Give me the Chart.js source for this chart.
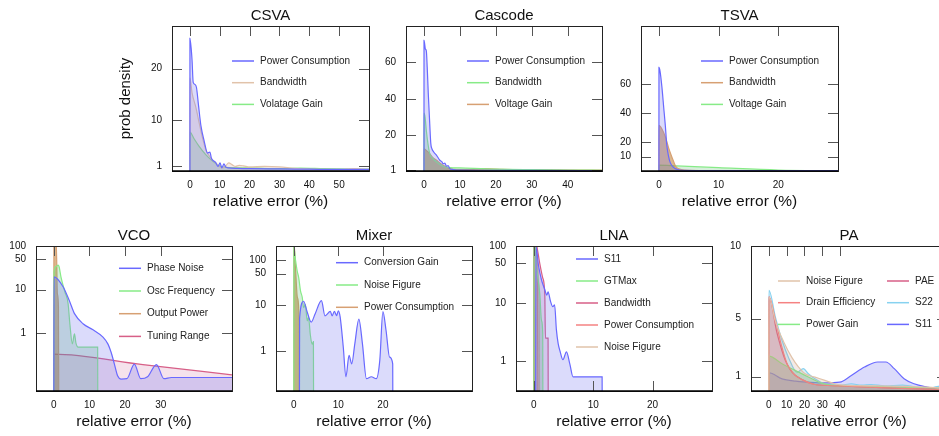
<!DOCTYPE html>
<html><head><meta charset="utf-8">
<script src="https://cdn.jsdelivr.net/npm/chart.js@4"></script>
<style>
html,body{margin:0;padding:0;width:939px;height:436px;overflow:hidden;background:#fff;position:relative}
canvas{position:absolute}
</style></head><body>
<script>
// ---------- DATA (x = relative error %, y = prob density) ----------
const xTitle = 'relative error (%)';
const yTitle = 'prob density';

const csvaPower = [[0,0],[0.01,25.9],[0.7,21.8],[1.1,17.3],[1.7,16.9],[2.2,16.3],[2.9,12.7],[3.7,8.8],[4.8,5.8],[5.9,3.5],[6.7,3.7],[7.2,2.5],[8.1,1.9],[8.7,1.6],[9.4,0.9],[10.1,1.6],[10.7,0.6],[11.4,1.4],[12,0.8],[13,0.6],[16,0.5],[20,0.45],[30,0.4],[40,0.35],[50,0.3],[60,0.3]];
const csvaBandwidth = [[0,0],[0.01,18.2],[0.7,15.3],[2,12.4],[3.1,9.4],[4.2,6.5],[5.3,4.2],[7,2.5],[8.7,1.6],[9.8,0.9],[11,0.6],[12,1.0],[13,1.6],[14.2,1.2],[15.3,0.9],[16.5,1.1],[18,1.0],[20,0.8],[25,0.9],[30,0.8],[35,0.5],[40,0.35],[50,0.3],[55,0.45],[60,0.3]];
const csvaVoltGain = [[0,0],[0.01,7.6],[1.4,6.3],[3.1,4.8],[5.3,3.2],[7.5,2.0],[9.8,1.0],[12,0.7],[20,0.6],[30,0.45],[37,0.55],[45,0.45],[60,0.35]];
const csvaXTicks = [0,10,20,30,40,50];
const csvaYTicks = [1,10,20];

const cascodePower = [[0,0],[0.01,72.2],[0.4,67.3],[0.65,66.4],[0.9,57.3],[1.2,42.7],[1.6,26.4],[1.9,15.5],[2.2,12.7],[2.7,10.9],[3.5,9.1],[4.4,6.4],[5.0,5.5],[5.3,4.5],[5.8,4.8],[6.3,3.1],[6.7,3.5],[7.2,1.8],[8.1,1.3],[10,1.0],[20,0.9],[30,0.8],[50,0.7]];
const cascodeBandwidth = [[0,0],[0.01,32.2],[0.3,30],[0.65,22.7],[1.1,15.5],[1.6,10],[2.5,7.3],[3.5,5.5],[5.3,3.1],[7.2,2.4],[10,2.2],[20,1.5],[30,1.2],[40,1.0],[50,0.9]];
const cascodeVoltGain = [[0,0],[0.01,12.7],[0.65,11.8],[1.6,10],[2.5,7.8],[3.5,6.4],[4.4,4.9],[5.3,3.6],[6.3,2.7],[7.2,1.8],[9.1,1.3],[13,1.3],[17,1.8],[22,1.4],[30,1.2],[50,1.0]];
const cascodeXTicks = [0,10,20,30,40];
const cascodeYTicks = [1,20,40,60];

const tsvaPower = [[0,0],[0.01,71.4],[0.2,68.6],[0.5,58],[0.8,44],[1.1,30],[1.3,18.6],[1.6,10.5],[1.9,5.8],[2.5,2.3],[3,1.2],[4,0.5],[10,0.3],[30,0.2]];
const tsvaBandwidth = [[0,0],[0.01,31.4],[0.5,29],[1.1,23.3],[1.6,16.3],[2.2,9.3],[2.7,4.2],[3,2.3],[3.6,1.2],[5,0.5],[10,0.3],[30,0.2]];
const tsvaVoltGain = [[0,0],[0.01,4],[3,3.5],[10,2.3],[20,0.7],[30,0.2]];
const tsvaXTicks = [0,10,20];
const tsvaYTicks = [10,20,40,60];

const vcoPhaseNoise = [[0,0.01],[0.05,19.6],[2.6,11.6],[4.5,5.2],[5.8,2.8],[8.2,1.64],[11,1.19],[13.8,0.81],[15.2,0.56],[16.1,0.36],[17,0.195],[17.9,0.105],[18.9,0.088],[20.5,0.09],[22.6,0.195],[24.4,0.09],[26.3,0.1],[28.8,0.19],[30.9,0.09],[33,0.096],[50,0.096]];
const vcoOscFreq = [[0,0.01],[0.05,25.6],[0.56,33.5],[1.2,36.5],[1.5,33],[2.0,19.6],[3.1,8.9],[4.0,4.8],[4.5,1.64],[5.2,0.57],[5.8,0.96],[6.2,0.6],[6.8,0.48],[12.3,0.48],[12.35,0.01]];
const vcoOutputPower = [[0,0.01],[0.02,500],[0.5,300],[0.8,50],[1.0,8],[1.3,4],[1.4,0.01]];
const vcoTuningRange = [[0,0.01],[0.02,0.33],[25,0.19],[50,0.11]];
const vcoXTicks = [0,10,20,30];
const vcoYTicks = [1,10,50,100];

const mixerConvGain = [[1.25,0.01],[1.3,5.2],[2.2,12.4],[3.0,7.2],[3.9,4.3],[4.8,6.6],[6.2,12.8],[7.0,5.9],[8.2,7.4],[8.6,5.9],[9.1,7.4],[9.6,6.0],[10,7.6],[10.4,5.6],[11.1,1.22],[11.7,0.27],[12.4,0.8],[13,0.52],[13.7,1.45],[14.6,5.0],[15.4,1.45],[16.3,0.245],[17.4,0.27],[18.5,0.245],[19.3,0.62],[20,7.3],[20.7,2.85],[21.5,0.73],[22.2,0.52],[22.25,0.01]];
const mixerNoiseFig = [[0,0.01],[0.02,190],[0.4,97],[0.75,58],[1.1,41],[1.5,21],[1.9,15],[2.2,9],[2.6,10.6],[3.0,4.6],[3.3,5.5],[3.7,2.3],[4.1,1.4],[4.4,1.6],[4.45,0.01]];
const mixerPower = [[0,0.01],[0.02,250],[0.4,60],[0.8,15],[1.2,4.6],[1.27,0.01]];
const mixerXTicks = [0,10,20];
const mixerYTicks = [1,10,50,100];

const lnaS11 = [[0.3,0.01],[0.35,100],[0.8,45],[1.3,25.6],[1.8,18],[2.2,14],[2.4,16],[2.8,11],[3.2,8.8],[3.5,9.5],[3.8,3.5],[4.1,2.0],[4.4,1.5],[4.9,1.05],[5.5,1.44],[6.05,0.9],[6.6,0.53],[11.5,0.53],[11.55,0.01]];
const lnaGTMax = [[0,0.01],[0.02,150],[0.5,40],[1.0,15],[1.3,5],[1.5,3],[1.55,0.01]];
const lnaBandwidth = [[0,0.01],[0.02,150],[0.5,100],[1.0,50],[1.5,28],[1.85,14],[1.95,2.5],[2.4,2.5],[2.45,0.01]];
const lnaPower = [[0,0.01],[0.02,200],[0.3,150],[0.6,20],[0.75,0.01]];
const lnaNoiseFig = [[0,0.01],[0.02,150],[0.5,60],[0.9,10],[1.0,0.01]];
const lnaXTicks = [0,10,20];
const lnaYTicks = [1,10,50,100];

const paNoiseFig = [[0,0],[0.05,6.5],[3.7,4.8],[8.3,3.4],[13,2.3],[16.7,1.65],[20.4,1.19],[25.9,0.96],[31.5,0.73],[37,0.5],[42,0.4],[60,0.35],[80,0.3],[100,0.2]];
const paDrainEff = [[0,0],[0.05,6.5],[3.7,4.9],[7.4,3.0],[10.2,1.9],[13.9,1.19],[18.5,0.8],[25.9,0.45],[40,0.35],[70,0.2],[100,0.1]];
const paPowerGain = [[0,0],[0.05,2.4],[7.4,1.88],[14.8,1.42],[22.2,0.96],[29.6,0.54],[35,0.4],[60,0.3],[100,0.2]];
const paPAE = [[0,0],[0.05,6.5],[4.6,4.0],[9.3,2.1],[13,1.3],[18.5,0.8],[25.9,0.45],[40,0.35],[70,0.2],[100,0.1]];
const paS22 = [[0,0],[0.05,6.95],[3.7,5.1],[7.4,3.5],[11.1,2.3],[15.8,1.3],[19.4,1.54],[22.2,1.19],[25.9,0.84],[31.4,0.5],[40,0.4],[46.3,0.5],[52,0.4],[57.4,0.45],[65,0.35],[75,0.4],[88.9,0.15],[94.4,0.3],[100,0.4]];
const paS11 = [[0,0],[0.05,1.26],[7.4,0.84],[14.8,0.68],[22.2,0.61],[31.5,0.56],[39.8,0.61],[46.3,1.07],[53.7,1.65],[61.1,2.0],[65.7,2.0],[70.4,1.54],[75.9,0.84],[81.5,0.5],[88.9,0.27],[94.4,0.15],[100,0.1]];
const paXTicks = [0,10,20,30,40];
const paYTicks = [1,5,10];

// ---------- STYLE ----------
const FONT = "'Liberation Sans', Arial, Helvetica, sans-serif";
Chart.defaults.font.family = FONT;
const C = {
  blue:    ['rgb(105,105,255)', 'rgba(110,110,240,0.25)'],
  tan:     ['rgb(225,195,170)', 'rgba(200,150,130,0.2)'],
  green:   ['rgb(135,235,135)', 'rgba(70,180,90,0.22)'],
  orange:  ['rgb(215,160,115)', 'rgba(190,125,50,0.55)'],
  crimson: ['rgb(215,95,135)',  'rgba(205,110,160,0.2)'],
  salmon:  ['rgb(245,130,130)', 'rgba(240,120,120,0.2)'],
  sky:     ['rgb(135,210,240)', 'rgba(135,205,240,0.3)']
};

const frame = {
  id: 'frame',
  afterDatasetsDraw(chart) {
    const o = chart.options.plugins.frame;
    const {ctx, chartArea: a, scales: {x, y}} = chart;
    ctx.save();
    ctx.strokeStyle = '#555'; ctx.lineWidth = 1;
    const seg = (x1, y1, x2, y2) => { ctx.beginPath(); ctx.moveTo(x1, y1); ctx.lineTo(x2, y2); ctx.stroke(); };
    x.ticks.forEach(t => {
      const px = Math.round(x.getPixelForValue(t.value)) + 0.5;
      seg(px, a.top, px, a.top + 10);
      if (o.bottomTicks) seg(px, a.bottom, px, a.bottom - 10);
    });
    y.ticks.forEach(t => {
      const py = Math.round(y.getPixelForValue(t.value)) + 0.5;
      seg(a.left, py, a.left + 10, py);
      seg(a.right, py, a.right - 10, py);
    });
    ctx.strokeStyle = '#222'; ctx.lineWidth = 1;
    ctx.strokeRect(Math.round(a.left) + 0.5, Math.round(a.top) + 0.5, Math.round(a.right - a.left), Math.round(a.bottom - a.top));
    ctx.strokeStyle = '#000'; ctx.lineWidth = 1.6;
    seg(a.left, a.bottom, a.right, a.bottom);
    ctx.restore();
  },
  afterDraw(chart) {
    const o = chart.options.plugins.frame;
    const {ctx, chartArea: a} = chart;
    ctx.save();
    ctx.fillStyle = '#111';
    ctx.font = '15px ' + FONT;
    ctx.textAlign = 'center'; ctx.textBaseline = 'middle';
    ctx.fillText(o.title, (a.left + a.right) / 2, a.top - 10);
    ctx.font = '10px ' + FONT;
    ctx.textAlign = 'left';
    o.legend.forEach(col => {
      col.items.forEach((idx, i) => {
        const ds = chart.data.datasets[idx];
        const yy = a.top + col.y + i * col.dy;
        const x0 = a.left + col.x;
        ctx.strokeStyle = ds.borderColor; ctx.lineWidth = 1.5;
        ctx.beginPath(); ctx.moveTo(x0, yy); ctx.lineTo(x0 + 22, yy); ctx.stroke();
        ctx.fillStyle = '#222';
        ctx.fillText(ds.label, x0 + 28, yy);
      });
    });
    ctx.restore();
  }
};

function makeChart(s) {
  const ML = 65, MT = 30, MR = 15, MB = 50;
  const cv = document.createElement('canvas');
  const w = s.R - s.L + ML + MR, h = s.B - s.T + MT + MB;
  cv.width = w; cv.height = h;
  cv.style.left = (s.L - ML) + 'px'; cv.style.top = (s.T - MT) + 'px';
  cv.style.width = w + 'px'; cv.style.height = h + 'px';
  document.body.appendChild(cv);
  new Chart(cv, {
    type: 'line',
    data: {
      datasets: s.series.map(([label, pts, col]) => ({
        label,
        data: pts.map(p => ({x: p[0], y: p[1]})),
        borderColor: C[col][0], backgroundColor: C[col][1],
        borderWidth: 1.2, pointRadius: 0, fill: 'start',
        cubicInterpolationMode: 'monotone'
      }))
    },
    options: {
      responsive: false, animation: false, devicePixelRatio: 1,
      layout: {padding: {top: MT, right: MR, left: 0, bottom: 0}},
      plugins: {
        legend: {display: false}, tooltip: {enabled: false},
        frame: {title: s.title, legend: s.legend, bottomTicks: !!s.bottomTicks}
      },
      scales: {
        x: {
          type: 'linear', min: s.xMin, max: s.xMax,
          grid: {display: false, drawTicks: false}, border: {display: false},
          afterBuildTicks: sc => { sc.ticks = s.xTicks.map(v => ({value: v})); },
          afterFit: sc => { sc.height = MB; },
          ticks: {padding: 8, font: {size: 10}, color: '#111', maxRotation: 0, autoSkip: false, callback: v => String(v)},
          title: {display: true, text: xTitle, font: {size: 15.5}, color: '#111', padding: {top: 0, bottom: 10}}
        },
        y: {
          type: s.yLog ? 'logarithmic' : 'linear', min: s.yMin, max: s.yMax,
          grid: {display: false, drawTicks: false}, border: {display: false},
          afterBuildTicks: sc => { sc.ticks = s.yTicks.map(v => ({value: v})); },
          afterFit: sc => { sc.width = ML; },
          ticks: {padding: 10, font: {size: 10}, color: '#111', autoSkip: false, callback: v => String(v)},
          title: {display: !!s.yTitle, text: s.yTitle || '', font: {size: 15}, color: '#111', padding: {top: 10, bottom: 0}}
        }
      }
    },
    plugins: [frame]
  });
}

makeChart({title: 'CSVA', L: 172, T: 26, R: 369, B: 171, xMin: -6, xMax: 60, yMin: 0, yMax: 28.3,
  xTicks: csvaXTicks, yTicks: csvaYTicks, yTitle: yTitle,
  series: [['Power Consumption', csvaPower, 'blue'], ['Bandwidth', csvaBandwidth, 'tan'], ['Volatage Gain', csvaVoltGain, 'green']],
  legend: [{x: 60, y: 35, dy: 21.7, items: [0, 1, 2]}]});

makeChart({title: 'Cascode', L: 406, T: 26, R: 602, B: 171, xMin: -5, xMax: 49.5, yMin: 0.5, yMax: 80,
  xTicks: cascodeXTicks, yTicks: cascodeYTicks,
  series: [['Power Consumption', cascodePower, 'blue'], ['Bandwidth', cascodeBandwidth, 'green'], ['Voltage Gain', cascodeVoltGain, 'orange']],
  legend: [{x: 61, y: 35, dy: 21.7, items: [0, 1, 2]}]});

makeChart({title: 'TSVA', L: 641, T: 26, R: 838, B: 171, xMin: -3, xMax: 30, yMin: 0, yMax: 100,
  xTicks: tsvaXTicks, yTicks: tsvaYTicks,
  series: [['Power Consumption', tsvaPower, 'blue'], ['Bandwidth', tsvaBandwidth, 'orange'], ['Voltage Gain', tsvaVoltGain, 'green']],
  legend: [{x: 60, y: 35, dy: 21.7, items: [0, 1, 2]}]});

makeChart({title: 'VCO', L: 36, T: 246, R: 232, B: 391, xMin: -5, xMax: 50, yMin: 0.047, yMax: 100, yLog: true,
  xTicks: vcoXTicks, yTicks: vcoYTicks,
  series: [['Phase Noise', vcoPhaseNoise, 'blue'], ['Osc Frequency', vcoOscFreq, 'green'], ['Output Power', vcoOutputPower, 'orange'], ['Tuning Range', vcoTuningRange, 'crimson']],
  legend: [{x: 83, y: 22.3, dy: 22.7, items: [0, 1, 2, 3]}]});

makeChart({title: 'Mixer', L: 276, T: 246, R: 472, B: 391, xMin: -4, xMax: 40, yMin: 0.131, yMax: 204, yLog: true,
  xTicks: mixerXTicks, yTicks: mixerYTicks,
  series: [['Conversion Gain', mixerConvGain, 'blue'], ['Noise Figure', mixerNoiseFig, 'green'], ['Power Consumption', mixerPower, 'orange']],
  legend: [{x: 60, y: 16.7, dy: 22.3, items: [0, 1, 2]}]});

makeChart({title: 'LNA', L: 516, T: 246, R: 712, B: 391, xMin: -3, xMax: 30, yMin: 0.3, yMax: 100, yLog: true,
  xTicks: lnaXTicks, yTicks: lnaYTicks, bottomTicks: true,
  series: [['S11', lnaS11, 'blue'], ['GTMax', lnaGTMax, 'green'], ['Bandwidth', lnaBandwidth, 'crimson'], ['Power Consumption', lnaPower, 'salmon'], ['Noise Figure', lnaNoiseFig, 'tan']],
  legend: [{x: 60, y: 13, dy: 22, items: [0, 1, 2, 3, 4]}]});

makeChart({title: 'PA', L: 751, T: 246, R: 947, B: 391, xMin: -10, xMax: 100, yMin: 0, yMax: 10,
  xTicks: paXTicks, yTicks: paYTicks,
  series: [['Noise Figure', paNoiseFig, 'tan'], ['Drain Efficiency', paDrainEff, 'salmon'], ['Power Gain', paPowerGain, 'green'], ['PAE', paPAE, 'crimson'], ['S22', paS22, 'sky'], ['S11', paS11, 'blue']],
  legend: [{x: 27, y: 35, dy: 21.7, items: [0, 1, 2]}, {x: 136, y: 35, dy: 21.7, items: [3, 4, 5]}]});
</script>
</body></html>
